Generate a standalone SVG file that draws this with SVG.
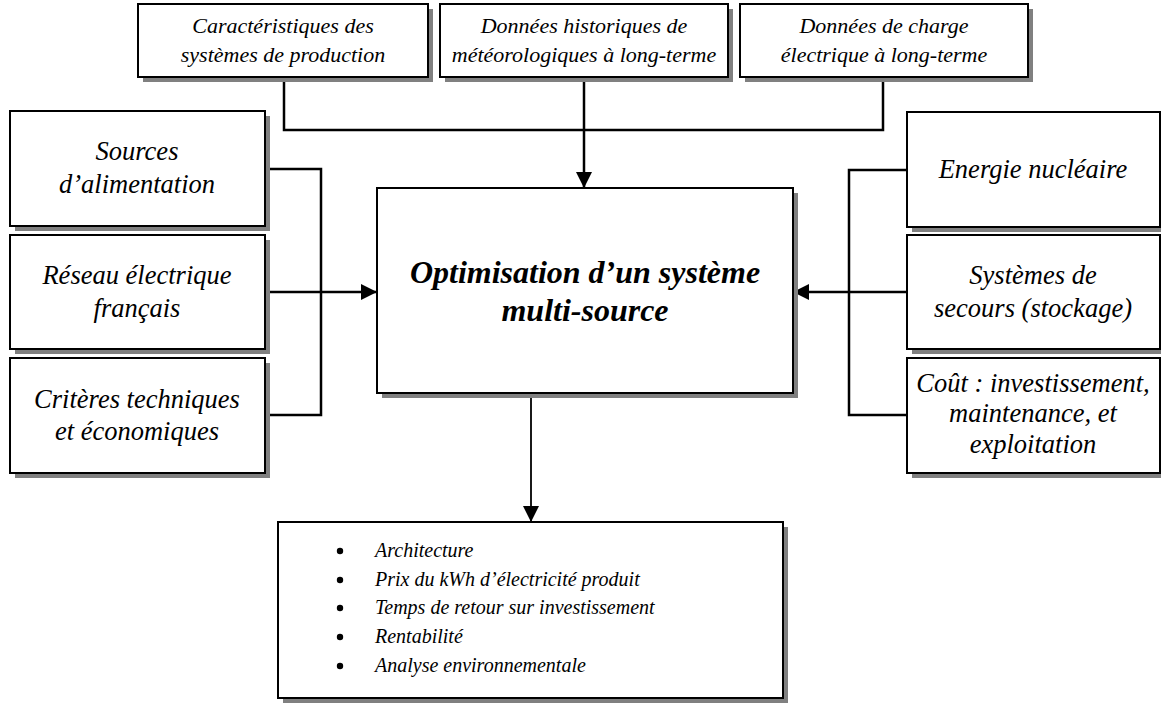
<svg xmlns="http://www.w3.org/2000/svg" width="1161" height="704" viewBox="0 0 1161 704">
<style>
.sh{fill:#808080;stroke:none}
.bx{fill:#fff;stroke:#000;stroke-width:2}
.t{font-family:"Liberation Serif","Times New Roman",serif;font-style:italic;fill:#000;text-anchor:middle}
.s22{font-size:22px}
.s26{font-size:26.5px}
.s20{font-size:20px;text-anchor:start}
.big{font-size:32px;font-weight:bold}
.c{fill:none;stroke:#000;stroke-width:2.5}
.c2{fill:none;stroke:#000;stroke-width:1.8}
</style>
<defs>
<marker id="ah" viewBox="0 0 16 16" refX="15" refY="8" markerUnits="userSpaceOnUse" markerWidth="16" markerHeight="16" orient="auto">
<path d="M0,0 L16,8 L0,16 z" fill="#000"/>
</marker>
</defs>
<g id="connectors">
<path class="c" d="M284 77 V130 H883 V77"/>
<path class="c" d="M584 77 V187" marker-end="url(#ah)"/>
<path class="c" d="M265 169 H321 V415 H265"/>
<path class="c" d="M265 292 H376" marker-end="url(#ah)"/>
<path class="c" d="M907 170 H849 V415 H907"/>
<path class="c" d="M907 292 H794" marker-end="url(#ah)"/>
<path class="c2" d="M531 393 V521" marker-end="url(#ah)"/>
</g>
<g id="n_caract">
<rect class="sh" x="143" y="9" width="290" height="73"/>
<rect class="bx" x="138" y="4" width="290" height="73"/>
<text class="t s22" x="283" y="33">Caractéristiques des</text>
<text class="t s22" x="283" y="62">systèmes de production</text>
</g>
<g id="n_meteo">
<rect class="sh" x="445" y="9" width="288" height="73"/>
<rect class="bx" x="440" y="4" width="288" height="73"/>
<text class="t s22" x="584" y="33">Données historiques de</text>
<text class="t s22" x="584" y="62">météorologiques à long-terme</text>
</g>
<g id="n_charge">
<rect class="sh" x="745" y="9" width="288" height="73"/>
<rect class="bx" x="740" y="4" width="288" height="73"/>
<text class="t s22" x="884" y="33">Données de charge</text>
<text class="t s22" x="884" y="62">électrique à long-terme</text>
</g>
<g id="n_sources">
<rect class="sh" x="15" y="116" width="255" height="115"/>
<rect class="bx" x="10" y="111" width="255" height="115"/>
<text class="t s26" x="137" y="160">Sources</text>
<text class="t s26" x="137" y="193">d’alimentation</text>
</g>
<g id="n_reseau">
<rect class="sh" x="15" y="240" width="255" height="114"/>
<rect class="bx" x="10" y="235" width="255" height="114"/>
<text class="t s26" x="137" y="284">Réseau électrique</text>
<text class="t s26" x="137" y="317">français</text>
</g>
<g id="n_criteres">
<rect class="sh" x="15" y="363" width="255" height="115"/>
<rect class="bx" x="10" y="358" width="255" height="115"/>
<text class="t s26" x="137" y="408">Critères techniques</text>
<text class="t s26" x="137" y="440">et économiques</text>
</g>
<g id="n_center">
<rect class="sh" x="382" y="193" width="416" height="205"/>
<rect class="bx" x="377" y="188" width="416" height="205"/>
<text class="t big" x="585" y="283">Optimisation d’un système</text>
<text class="t big" x="585" y="321">multi-source</text>
</g>
<g id="n_nucleaire">
<rect class="sh" x="912" y="117" width="253" height="115"/>
<rect class="bx" x="907" y="112" width="253" height="115"/>
<text class="t s26" x="1033" y="178">Energie nucléaire</text>
</g>
<g id="n_secours">
<rect class="sh" x="912" y="240" width="253" height="114"/>
<rect class="bx" x="907" y="235" width="253" height="114"/>
<text class="t s26" x="1033" y="284">Systèmes de</text>
<text class="t s26" x="1033" y="317">secours (stockage)</text>
</g>
<g id="n_cout">
<rect class="sh" x="912" y="363" width="253" height="115"/>
<rect class="bx" x="907" y="358" width="253" height="115"/>
<text class="t s26" x="1033" y="392">Coût : investissement,</text>
<text class="t s26" x="1033" y="422">maintenance, et</text>
<text class="t s26" x="1033" y="453">exploitation</text>
</g>
<g id="n_resultats">
<rect class="sh" x="283" y="527" width="505" height="176"/>
<rect class="bx" x="278" y="522" width="505" height="176"/>
<circle cx="340" cy="551" r="3.2"/>
<circle cx="340" cy="580" r="3.2"/>
<circle cx="340" cy="608" r="3.2"/>
<circle cx="340" cy="637" r="3.2"/>
<circle cx="340" cy="666" r="3.2"/>
<text class="t s20" x="375" y="557">Architecture</text>
<text class="t s20" x="375" y="586">Prix du kWh d’électricité produit</text>
<text class="t s20" x="375" y="614">Temps de retour sur investissement</text>
<text class="t s20" x="375" y="643">Rentabilité</text>
<text class="t s20" x="375" y="672">Analyse environnementale</text>
</g>
</svg>
